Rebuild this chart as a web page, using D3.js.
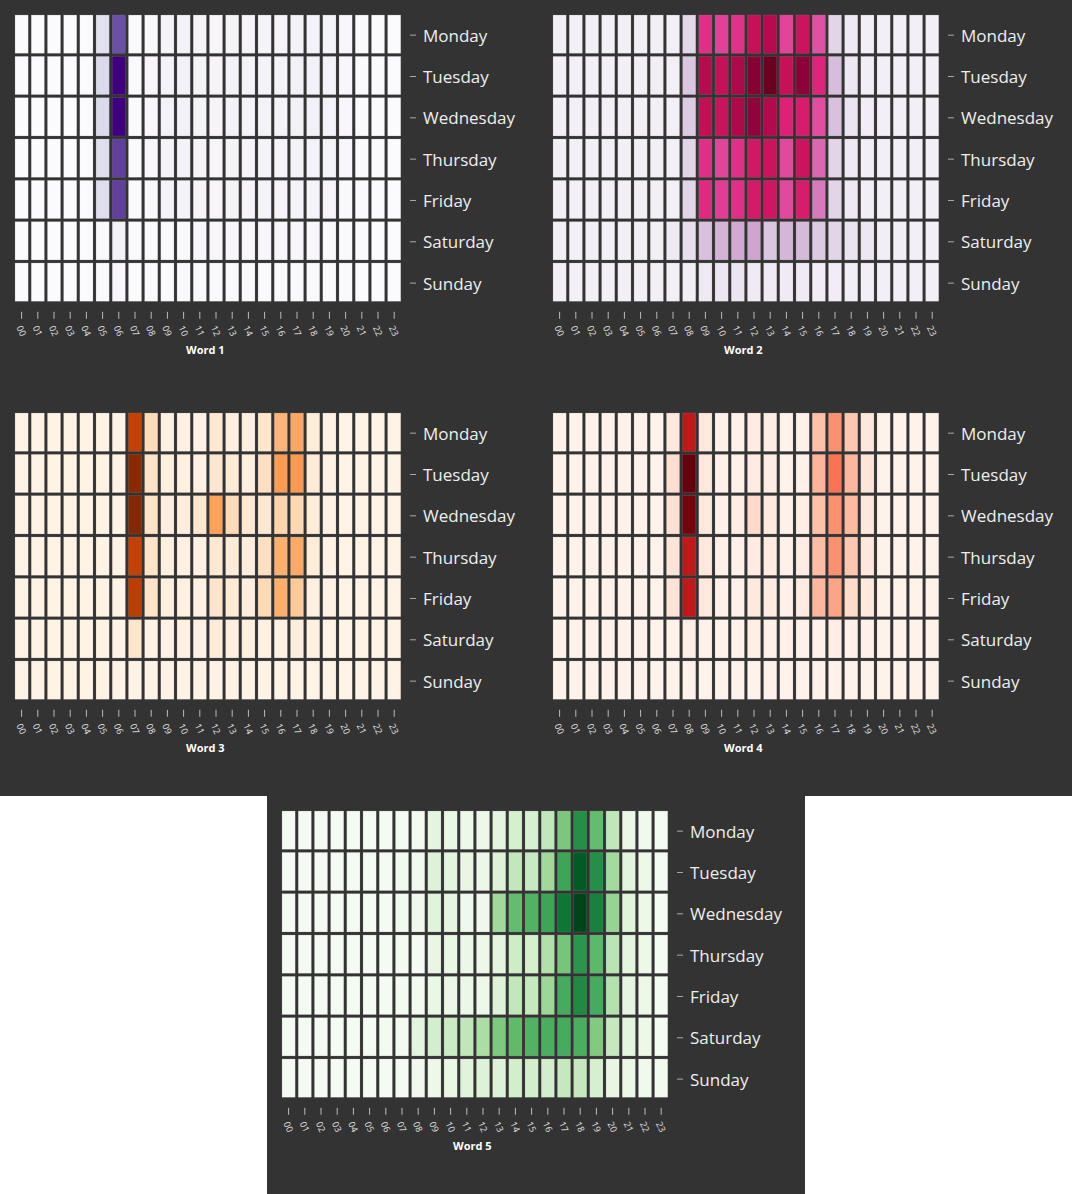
<!DOCTYPE html>
<html>
<head>
<meta charset="utf-8">
<script src="https://cdn.jsdelivr.net/npm/d3@7"></script>
<style>
  html, body { margin: 0; padding: 0; background: #ffffff; overflow: hidden; }
  svg { display: block; }
</style>
</head>
<body>
<svg id="chart" width="1072" height="1194"></svg>
<script>
const days = ["Monday", "Tuesday", "Wednesday", "Thursday", "Friday", "Saturday", "Sunday"];
const hours = ["00","01","02","03","04","05","06","07","08","09","10","11","12","13","14","15","16","17","18","19","20","21","22","23"];
const wordNames = ["Word 1", "Word 2", "Word 3", "Word 4", "Word 5"];

const word1 = [
  [1,1,1,1,1,20,75,2,3,7,8,6,5,7,6,7,6,8,8,7,4,2,2,1],
  [1,1,1,1,1,24,100,2,4,8,9,7,6,8,7,8,7,9,9,8,4,2,2,1],
  [1,1,1,1,1,24,100,2,4,8,9,7,6,8,7,8,7,9,9,8,4,2,2,1],
  [1,1,1,1,1,22,80,2,4,7,8,6,5,7,6,7,6,8,8,7,4,2,2,1],
  [1,1,1,1,1,22,80,2,3,7,7,6,5,7,6,7,6,7,7,6,3,2,2,1],
  [1,1,1,1,1,3,9,2,2,3,3,4,4,4,4,4,4,4,4,3,2,2,1,1],
  [1,1,1,1,1,2,4,1,2,2,3,3,3,3,3,3,3,3,3,2,2,1,1,1]
];
const word2 = [
  [3,3,3,3,3,3,3,3,15,63,58,62,76,80,57,74,54,16,7,3,3,3,3,3],
  [3,3,3,3,3,3,4,3,21,80,76,82,92,99,76,91,66,24,8,4,3,3,3,3],
  [3,3,3,3,3,3,3,3,20,77,75,82,89,81,67,70,55,23,9,5,3,3,3,3],
  [3,3,3,3,3,3,3,3,16,63,57,63,72,74,56,74,49,16,7,4,3,3,3,3],
  [3,3,3,3,3,3,3,3,16,64,59,63,71,73,56,70,44,16,7,4,3,3,3,3],
  [3,3,3,3,3,3,3,7,12,23,27,30,32,21,26,25,20,16,10,8,4,4,3,3],
  [3,3,3,3,3,3,3,3,4,7,8,9,6,6,6,6,5,5,4,3,3,3,3,3]
];
const word3 = [
  [2,2,2,2,2,2,2,80,18,4,4,3,10,5,5,12,35,40,8,3,2,2,2,2],
  [2,2,2,2,2,2,2,97,14,5,4,4,11,9,5,16,44,45,9,3,2,2,2,2],
  [2,2,2,2,2,2,2,99,14,6,6,11,42,19,10,10,22,20,8,3,2,2,2,2],
  [2,2,2,2,2,2,2,80,14,5,4,4,10,8,6,16,37,39,8,3,2,2,2,2],
  [2,2,2,2,2,2,2,82,14,5,4,4,12,9,6,19,37,27,5,3,2,2,2,2],
  [2,2,2,2,2,2,2,12,3,3,4,4,7,5,5,4,3,6,4,2,2,2,2,2],
  [2,2,2,2,2,2,2,2,2,2,2,2,2,2,2,2,2,2,2,2,2,2,2,2]
];
const word4 = [
  [2,2,2,2,2,2,2,8,78,8,3,3,6,5,2,3,23,38,21,8,2,2,2,2],
  [2,2,2,2,2,2,2,12,100,8,3,3,6,5,2,3,27,47,26,9,2,2,2,2],
  [2,2,2,2,2,2,2,11,97,8,3,5,14,7,3,4,23,38,25,8,2,2,2,2],
  [2,2,2,2,2,2,2,10,78,8,3,3,6,6,3,5,24,38,21,8,2,2,2,2],
  [2,2,2,2,2,2,2,10,78,8,3,3,7,6,3,6,26,32,13,7,2,2,2,2],
  [2,2,2,2,2,2,2,2,5,3,2,2,4,3,3,3,3,4,3,3,2,2,2,2],
  [2,2,2,2,2,2,2,2,2,2,2,2,2,2,2,2,2,2,2,2,2,2,2,2]
];
const word5 = [
  [2,2,2,2,2,2,2,2,3,12,9,7,7,12,19,18,26,48,74,54,27,8,5,2],
  [2,2,2,2,2,2,2,4,4,15,12,10,8,15,26,24,37,65,93,74,36,13,7,2],
  [2,2,2,2,2,2,2,4,5,14,11,6,6,37,54,59,65,83,100,79,40,14,7,2],
  [2,2,2,2,2,2,2,3,2,10,9,8,7,12,22,19,32,49,71,56,29,12,7,2],
  [2,2,2,2,2,2,2,3,3,9,8,8,7,15,26,25,38,62,76,62,31,11,7,2],
  [2,2,2,2,2,2,3,3,12,20,23,27,34,47,55,59,61,62,61,46,25,12,7,2],
  [2,2,2,2,2,2,2,2,5,7,9,14,15,15,20,20,20,25,25,19,10,8,5,3]
];

const allWords = [word1, word2, word3, word4, word5];
const interps = [d3.interpolatePurples, d3.interpolatePuRd, d3.interpolateOranges, d3.interpolateReds, d3.interpolateGreens];

const svg = d3.select("#chart");
const panelW = 538, panelH = 398;
const bg = "#333333";

svg.append("rect").attr("x", 0).attr("y", 0).attr("width", 1072).attr("height", 1194).attr("fill", "#ffffff");
svg.append("rect").attr("x", 0).attr("y", 0).attr("width", 1072).attr("height", panelH * 2).attr("fill", bg);
svg.append("rect").attr("x", 267).attr("y", panelH * 2).attr("width", panelW).attr("height", panelH).attr("fill", bg);

const origins = [[0, 0], [538, 0], [0, 398], [538, 398], [267, 796]];

const m = { left: 13.5, top: 13.5 };
const W = 388.8, H = 289.3;

const x = d3.scaleBand().domain(hours).range([0, W]);
const y = d3.scaleBand().domain(days).range([0, H]);

const fontFam = "'Open Sans', 'Noto Sans', sans-serif";

allWords.forEach((data, wi) => {
  const color = d3.scaleSequential(interps[wi]).domain([0, 100]);
  const g = svg.append("g").attr("transform", `translate(${origins[wi][0] + m.left},${origins[wi][1] + m.top})`);

  const cells = [];
  data.forEach((row, di) => row.forEach((v, hi) => cells.push({ day: days[di], hour: hours[hi], v })));

  const gap = 3;
  g.selectAll("rect.cell").data(cells).join("rect")
    .attr("class", "cell")
    .attr("x", d => x(d.hour) + gap / 2)
    .attr("y", d => y(d.day) + gap / 2)
    .attr("width", x.bandwidth() - gap)
    .attr("height", y.bandwidth() - gap)
    .attr("fill", d => color(d.v))
    .attr("stroke", "rgba(140,140,140,0.45)")
    .attr("stroke-width", 0.5);

  // right axis (days)
  const yAxis = g.append("g").attr("transform", `translate(${W + 7.7},0)`)
    .call(d3.axisRight(y).tickSize(6).tickPadding(7));
  yAxis.select(".domain").remove();
  yAxis.selectAll(".tick line").attr("stroke", "#aaaaaa").attr("transform", "translate(0,1)");
  yAxis.selectAll(".tick text")
    .attr("fill", "#eeeeee")
    .attr("dy", "0.45em")
    .style("font-family", fontFam)
    .style("font-size", "17px");

  // bottom axis (hours)
  const xAxis = g.append("g").attr("transform", `translate(0,${H + 9})`)
    .call(d3.axisBottom(x).tickSize(7).tickPadding(0));
  xAxis.select(".domain").remove();
  xAxis.selectAll(".tick line").attr("stroke", "#bbbbbb");
  xAxis.selectAll(".tick text")
    .attr("fill", "#e4e4e4")
    .attr("dy", null)
    .attr("y", null)
    .attr("text-anchor", "middle")
    .attr("dominant-baseline", "central")
    .attr("transform", "translate(0,19) rotate(65)")
    .style("font-family", fontFam)
    .style("font-size", "9px");

  g.append("text")
    .attr("x", W / 2 - 2.5)
    .attr("y", H + 51.5)
    .attr("text-anchor", "middle")
    .attr("fill", "#ffffff")
    .style("font-family", fontFam)
    .style("font-weight", "bold")
    .style("font-size", "11px")
    .text(wordNames[wi]);
});
</script>
</body>
</html>
